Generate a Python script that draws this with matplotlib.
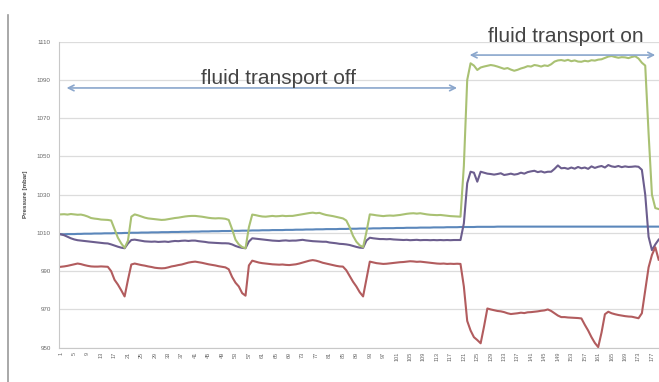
import matplotlib.pyplot as plt

# pressure readings (mbar), one value per sample, samples 1..179
green = [
    1019.7, 1019.8, 1019.6, 1019.9, 1019.7, 1019.5, 1019.6, 1019.2, 1018.6, 1017.8,
    1017.5, 1017.3, 1017.0, 1016.9, 1016.8, 1016.5, 1012.0, 1007.5, 1004.5, 1002.2,
    1006.0, 1018.5, 1019.7, 1019.2, 1018.6, 1018.0, 1017.6, 1017.4, 1017.2, 1017.0,
    1016.8, 1016.9, 1017.2, 1017.5, 1017.8, 1018.0, 1018.3, 1018.6, 1018.8, 1018.9,
    1018.9, 1018.7, 1018.5, 1018.2, 1017.9, 1017.7, 1017.6, 1017.7, 1017.6, 1017.4,
    1016.8, 1012.0, 1006.5, 1004.0, 1002.6, 1002.0, 1013.0, 1019.6, 1019.3, 1018.9,
    1018.6, 1018.5, 1018.7, 1018.9, 1018.7, 1018.8, 1019.0, 1018.8, 1018.9, 1018.9,
    1019.2, 1019.5, 1019.8, 1020.1, 1020.4, 1020.6, 1020.3, 1020.5, 1019.9, 1019.4,
    1019.1, 1018.8, 1018.4, 1018.0, 1017.6, 1016.5, 1013.0, 1008.5, 1005.4, 1003.5,
    1002.6, 1010.5, 1019.7, 1019.5, 1019.2, 1019.0, 1018.8, 1019.0, 1019.1, 1019.0,
    1019.2, 1019.4, 1019.7, 1020.0, 1020.2, 1020.3, 1020.1, 1020.3, 1020.0, 1019.7,
    1019.5, 1019.4, 1019.3, 1019.4, 1019.2, 1019.0, 1018.8, 1018.7, 1018.6, 1018.5,
    1045.0, 1090.0, 1098.7, 1097.5, 1095.2, 1096.5, 1097.0, 1097.4, 1097.8, 1097.5,
    1097.0, 1096.4, 1095.8, 1096.2, 1095.4, 1094.8, 1095.3, 1096.0, 1096.5, 1097.2,
    1097.0, 1097.8, 1097.5, 1097.0, 1097.6, 1097.3, 1098.2, 1099.6, 1100.2, 1100.4,
    1100.0, 1100.5, 1099.8, 1100.2, 1099.6, 1099.5, 1100.0, 1099.7, 1100.3, 1100.1,
    1100.6, 1100.8, 1101.5, 1102.2, 1102.5, 1102.0, 1101.6, 1101.9, 1101.8, 1101.4,
    1102.0, 1102.4, 1101.2, 1099.0, 1097.5, 1062.0, 1030.0, 1023.0, 1022.5,
]
purple = [
    1009.3, 1008.8, 1008.0, 1007.2, 1006.6, 1006.2, 1006.0, 1005.8, 1005.6, 1005.4,
    1005.2, 1005.0, 1004.8, 1004.6, 1004.5, 1004.0, 1003.4, 1002.8, 1002.3, 1002.0,
    1004.5, 1006.3, 1006.5, 1006.2, 1005.9, 1005.6, 1005.5, 1005.4, 1005.5, 1005.3,
    1005.4, 1005.5, 1005.3, 1005.6, 1005.8, 1005.7, 1005.9, 1006.0, 1005.8, 1006.0,
    1006.0, 1005.7, 1005.5, 1005.3, 1005.0, 1004.9, 1004.8, 1004.7, 1004.6, 1004.6,
    1004.5, 1004.0, 1003.2, 1002.6, 1002.2, 1002.0, 1005.5, 1007.2, 1007.0, 1006.8,
    1006.6, 1006.4, 1006.2, 1006.0, 1005.9, 1005.8, 1006.0, 1006.1, 1005.9, 1006.0,
    1006.0, 1006.2, 1006.4, 1006.1, 1005.9, 1005.7, 1005.6, 1005.5, 1005.4, 1005.4,
    1005.0, 1004.8, 1004.6, 1004.3, 1004.2, 1004.0, 1003.7, 1003.2, 1002.7, 1002.3,
    1002.2, 1006.0, 1007.5, 1007.2, 1007.0, 1006.8, 1006.8, 1006.7, 1006.8, 1006.6,
    1006.5, 1006.4, 1006.3, 1006.4, 1006.2, 1006.3, 1006.4, 1006.2, 1006.3, 1006.3,
    1006.2, 1006.3, 1006.2, 1006.3, 1006.2, 1006.3, 1006.2, 1006.3, 1006.3, 1006.3,
    1015.0, 1036.0, 1042.0, 1041.5, 1036.8, 1042.0, 1041.5, 1041.0, 1040.8, 1040.5,
    1040.8, 1041.2, 1040.3, 1040.6, 1041.0, 1040.5, 1040.8, 1041.5, 1041.0, 1041.8,
    1042.2, 1042.5, 1041.8, 1042.2, 1041.6, 1042.0, 1042.0, 1043.5, 1045.3, 1043.8,
    1044.0, 1043.5, 1044.2, 1043.6, 1044.5, 1043.8, 1044.2, 1043.5, 1044.8, 1044.0,
    1044.6, 1045.0, 1044.2, 1045.5, 1044.8, 1044.5, 1045.0, 1044.4, 1044.8, 1044.5,
    1044.6, 1044.8, 1044.6, 1043.0, 1030.0, 1008.0, 1001.0, 1004.0, 1006.5,
]
red = [
    992.3, 992.5, 992.8, 993.2, 993.6, 994.0, 993.7, 993.2, 992.8, 992.5,
    992.4, 992.4, 992.5, 992.4, 992.3, 990.0, 985.5, 983.0, 980.0, 976.8,
    985.5, 993.5, 994.0, 993.6, 993.2, 992.9, 992.5, 992.2, 991.8, 991.6,
    991.5, 991.6, 992.0, 992.5, 992.8, 993.2, 993.5, 994.0, 994.5, 994.8,
    995.0, 994.7, 994.4, 994.0, 993.6, 993.3, 993.0, 992.6, 992.3, 992.0,
    991.0, 987.0, 984.0, 982.0, 978.5, 977.2, 993.0, 995.5, 995.0, 994.5,
    994.2, 994.0, 993.8, 993.6, 993.5, 993.4, 993.5, 993.3, 993.2, 993.4,
    993.6, 994.0, 994.5, 995.0, 995.5, 995.8, 995.5, 995.0, 994.4, 994.0,
    993.6, 993.2, 992.8, 992.5, 992.4, 990.5, 987.5, 984.5, 982.0, 979.0,
    976.8, 986.0, 995.0, 994.6, 994.2, 994.0, 993.8, 993.9, 994.1, 994.3,
    994.5, 994.7, 994.8, 995.0, 995.2, 995.1, 994.9, 995.0, 994.8, 994.6,
    994.4, 994.2, 994.0, 993.9, 994.0, 993.8, 993.9, 993.8, 993.9, 993.8,
    982.0, 964.0, 959.0, 955.5, 954.0, 952.3, 961.0, 970.5, 970.0, 969.6,
    969.2, 969.0, 968.6, 968.0, 967.6, 967.8, 968.0, 968.3, 968.1, 968.5,
    968.6, 968.8, 969.0, 969.3, 969.5, 970.0, 969.2, 968.0, 966.8, 966.0,
    966.0, 965.8, 965.7, 965.6, 965.5, 965.3, 962.0, 959.0, 955.5, 952.5,
    950.3, 958.0, 967.5, 968.8, 968.0, 967.5, 967.1, 966.8, 966.5, 966.3,
    966.2, 965.8, 965.4, 968.0, 980.0, 992.0, 998.5, 1002.5, 996.0,
]
blue = [
    1009.3, 1009.3, 1009.4, 1009.4, 1009.4, 1009.5, 1009.5, 1009.6, 1009.6, 1009.6,
    1009.7, 1009.7, 1009.7, 1009.8, 1009.8, 1009.8, 1009.9, 1009.9, 1009.9, 1010.0,
    1010.0, 1010.1, 1010.1, 1010.1, 1010.2, 1010.2, 1010.2, 1010.3, 1010.3, 1010.3,
    1010.4, 1010.4, 1010.4, 1010.5, 1010.5, 1010.5, 1010.6, 1010.6, 1010.6, 1010.7,
    1010.7, 1010.7, 1010.8, 1010.8, 1010.8, 1010.9, 1010.9, 1010.9, 1011.0, 1011.0,
    1011.0, 1011.1, 1011.1, 1011.1, 1011.2, 1011.2, 1011.2, 1011.3, 1011.3, 1011.3,
    1011.4, 1011.4, 1011.4, 1011.5, 1011.5, 1011.5, 1011.5, 1011.6, 1011.6, 1011.6,
    1011.7, 1011.7, 1011.7, 1011.8, 1011.8, 1011.8, 1011.9, 1011.9, 1011.9, 1012.0,
    1012.0, 1012.0, 1012.0, 1012.1, 1012.1, 1012.1, 1012.2, 1012.2, 1012.2, 1012.3,
    1012.3, 1012.3, 1012.3, 1012.4, 1012.4, 1012.4, 1012.5, 1012.5, 1012.5, 1012.5,
    1012.6, 1012.6, 1012.6, 1012.7, 1012.7, 1012.7, 1012.7, 1012.8, 1012.8, 1012.8,
    1012.8, 1012.9, 1012.9, 1012.9, 1012.9, 1013.0, 1013.0, 1013.0, 1013.0, 1013.1,
    1013.1, 1013.1, 1013.1, 1013.1, 1013.2, 1013.2, 1013.2, 1013.2, 1013.2, 1013.2,
    1013.3, 1013.3, 1013.3, 1013.3, 1013.3, 1013.3, 1013.3, 1013.3, 1013.3, 1013.3,
    1013.3, 1013.3, 1013.3, 1013.3, 1013.3, 1013.3, 1013.3, 1013.3, 1013.3, 1013.3,
    1013.3, 1013.3, 1013.3, 1013.3, 1013.3, 1013.3, 1013.3, 1013.3, 1013.3, 1013.3,
    1013.3, 1013.3, 1013.3, 1013.3, 1013.3, 1013.3, 1013.3, 1013.3, 1013.3, 1013.3,
    1013.3, 1013.3, 1013.3, 1013.3, 1013.3, 1013.3, 1013.3, 1013.3, 1013.3,
]
samples = list(range(1, len(green) + 1))
xtick_pos = samples[::4]
yticks = [950, 970, 990, 1010, 1030, 1050, 1070, 1090, 1110]

plt.rcParams['font.family'] = ['Liberation Sans', 'DejaVu Sans']

fig = plt.figure(figsize=(6.59, 3.82), dpi=100)
ax = fig.add_axes([0.0897, 0.0898, 0.9103, 0.8011])

ax.plot(samples, blue, color='#5b87bb', lw=1.5)
ax.plot(samples, purple, color='#6c5e8e', lw=1.5)
ax.plot(samples, red, color='#b25c5e', lw=1.5)
ax.plot(samples, green, color='#a9c173', lw=1.5)

ax.set_xlim(0.5, 179.1)
ax.set_ylim(950, 1110)
ax.set_yticks(yticks)
ax.set_yticklabels([str(v) for v in yticks], fontsize=4.5, color='#666666')
ax.set_xticks(xtick_pos)
ax.set_xticklabels([str(v) for v in xtick_pos], fontsize=4, rotation=90, color='#666666')
ax.tick_params(axis='both', length=0, pad=3)
ax.tick_params(axis='y', pad=6)
ax.grid(axis='y', color='#dcdcdc', lw=0.9)
ax.set_axisbelow(True)
for s in ['top', 'right']:
    ax.spines[s].set_visible(False)
ax.spines['left'].set_color('#c8c8c8')
ax.spines['bottom'].set_color('#c8c8c8')
ax.set_ylabel('Pressure [mbar]', fontsize=4.5, fontweight='bold', color='#444444', labelpad=6)

# phase annotations
ax.annotate('', xy=(1.9, 1085.8), xytext=(119.8, 1085.8),
            arrowprops=dict(arrowstyle='<->', color='#8aa6cc', lw=1.2))
ax.text(65.9, 1091, 'fluid transport off', fontsize=15, color='#444444', ha='center', va='center')
ax.annotate('', xy=(121.9, 1103), xytext=(178.8, 1103),
            arrowprops=dict(arrowstyle='<->', color='#8aa6cc', lw=1.2), annotation_clip=False)
ax.text(151.4, 1112.5, 'fluid transport on', fontsize=15, color='#444444', ha='center', va='center',
        clip_on=False)

fig.add_artist(plt.Line2D([7.5 / 659, 7.5 / 659], [0, 1 - 15 / 382], color='#9a9a9a', lw=1.2))

fig.savefig('out.png', dpi=100)
